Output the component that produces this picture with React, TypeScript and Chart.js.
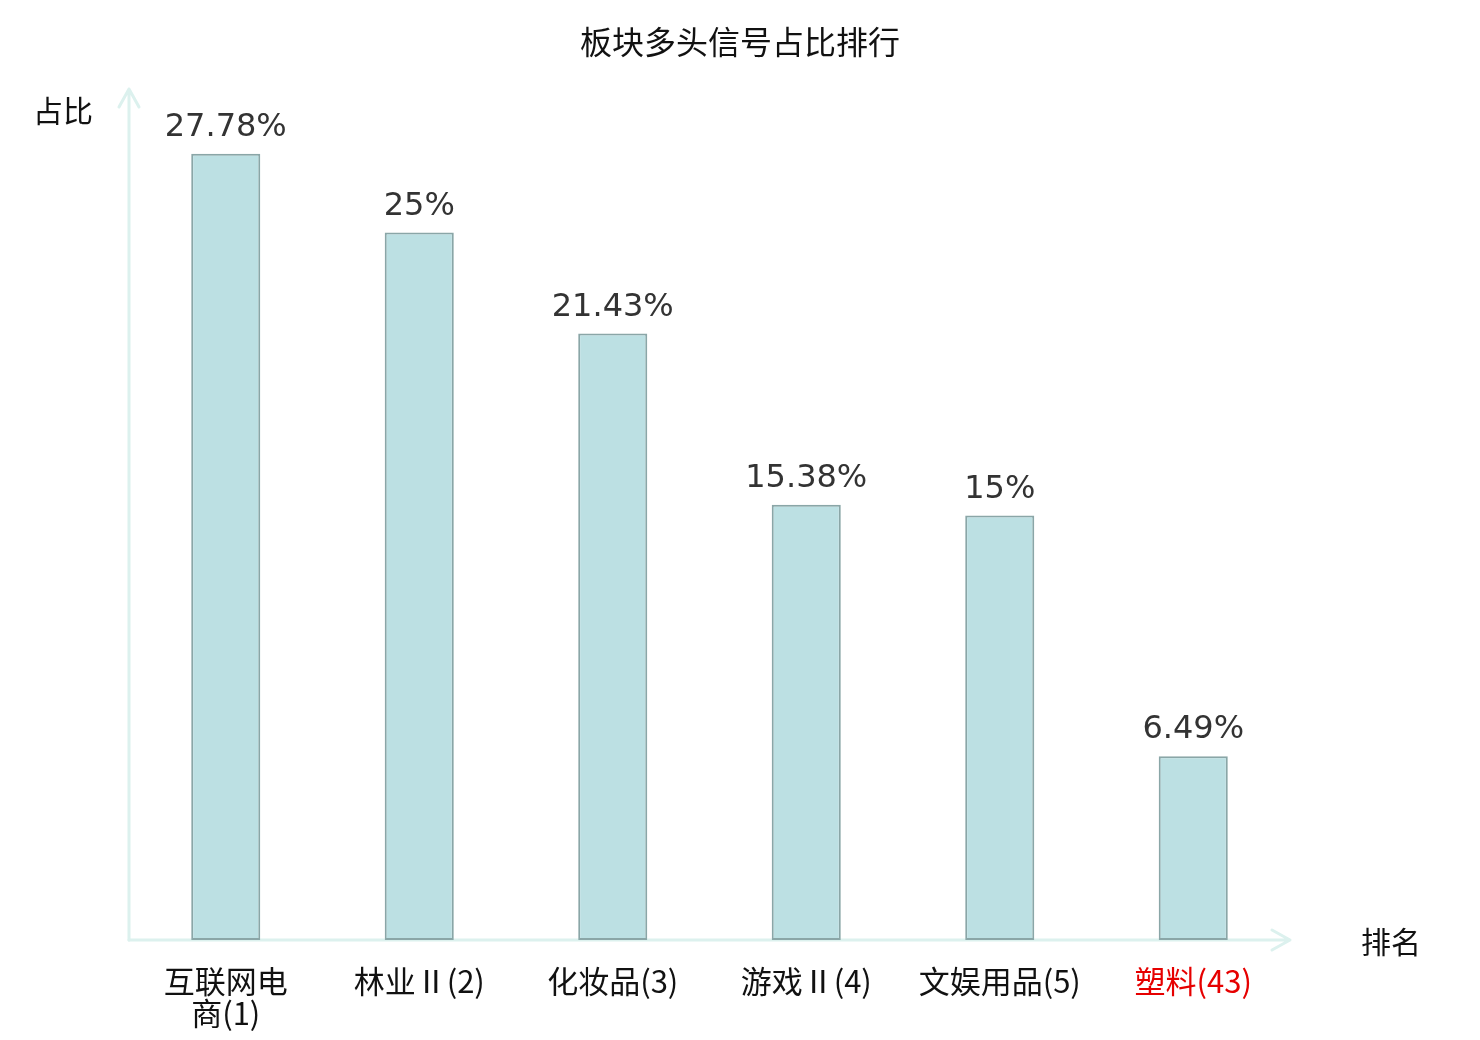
import { useEffect, useRef } from "react"
import { Chart, registerables } from "chart.js"

Chart.register(...registerables)

// categories (rank in brackets), long names wrap onto two lines
const categories = [["互联网电", "商(1)"], "林业Ⅱ(2)", "化妆品(3)", "游戏Ⅱ(4)", "文娱用品(5)", "塑料(43)"]
const shares = [27.78, 25, 21.43, 15.38, 15, 6.49]
const labelColors = ["#111111", "#111111", "#111111", "#111111", "#111111", "#e60000"]
const chartTitle = "板块多头信号占比排行"

const AXIS_COLOR = "#dcf1ee"
const CJK = "'Noto Sans CJK SC', 'DejaVu Sans', sans-serif"

const axisPlugin = {
  id: "axisDecor",
  beforeDatasetsDraw(chart: any) {
    const { ctx, chartArea: a } = chart
    ctx.save()
    ctx.strokeStyle = AXIS_COLOR
    ctx.lineWidth = 3
    ctx.lineCap = "round"
    ctx.lineJoin = "round"
    // y axis with arrow
    ctx.beginPath()
    ctx.moveTo(a.left, a.bottom)
    ctx.lineTo(a.left, a.top - 2)
    ctx.moveTo(a.left - 10, a.top + 16)
    ctx.lineTo(a.left, a.top - 2)
    ctx.lineTo(a.left + 10, a.top + 16)
    ctx.stroke()
    // x axis with arrow
    ctx.beginPath()
    ctx.moveTo(a.left, a.bottom)
    ctx.lineTo(a.right, a.bottom)
    ctx.moveTo(a.right - 18, a.bottom - 10)
    ctx.lineTo(a.right, a.bottom)
    ctx.lineTo(a.right - 18, a.bottom + 10)
    ctx.stroke()
    ctx.restore()
  },
  afterDatasetsDraw(chart: any) {
    const { ctx, chartArea: a, width } = chart
    ctx.save()
    // title centred on the whole canvas
    ctx.fillStyle = "#111111"
    ctx.font = "32px " + CJK
    ctx.textAlign = "center"
    ctx.textBaseline = "middle"
    ctx.fillText(chartTitle, width / 2, 42)
    // value labels above bars
    ctx.fillStyle = "#333333"
    ctx.font = "32px 'DejaVu Sans', sans-serif"
    ctx.textBaseline = "alphabetic"
    chart.getDatasetMeta(0).data.forEach((bar: any, i: number) => {
      ctx.fillText(shares[i] + "%", bar.x, bar.y - 18)
    })
    // axis names
    ctx.fillStyle = "#111111"
    ctx.font = "30px " + CJK
    ctx.textBaseline = "middle"
    ctx.fillText("占比", a.left - 66, a.top + 20)
    ctx.fillText("排名", a.right + 101, a.bottom + 2)
    ctx.restore()
  },
}

export default function App() {
  const canvasRef = useRef<HTMLCanvasElement>(null)
  const chartRef = useRef<Chart | null>(null)

  useEffect(() => {
    document.body.style.margin = "0"
    if (!canvasRef.current) return
    if (chartRef.current) chartRef.current.destroy()

    chartRef.current = new Chart(canvasRef.current, {
      type: "bar",
      data: {
        labels: categories,
        datasets: [
          {
            data: shares,
            backgroundColor: "#bce0e3",
            borderColor: "#8aa6a7",
            borderWidth: 2,
            borderSkipped: false,
            barPercentage: 0.357,
            categoryPercentage: 1,
          },
        ],
      },
      options: {
        responsive: false,
        animation: false,
        layout: { padding: { left: 129, right: 190, top: 91, bottom: 0 } },
        plugins: {
          legend: { display: false },
          tooltip: { enabled: false },
          title: { display: false },
        },
        scales: {
          y: { display: false, min: 0, max: 30 },
          x: {
            grid: { display: false, drawTicks: false },
            border: { display: false },
            ticks: {
              padding: 25,
              color: (c: any) => labelColors[c.index] ?? "#111111",
              font: { family: CJK, size: 31, lineHeight: 1.03 },
              maxRotation: 0,
              autoSkip: false,
            },
            afterFit: (scale: any) => {
              scale.height = 100
            },
          },
        },
      },
      plugins: [axisPlugin],
    })

    return () => {
      if (chartRef.current) {
        chartRef.current.destroy()
        chartRef.current = null
      }
    }
  }, [])

  return (
    <div style={{ width: 1480, height: 1040, background: "#ffffff" }}>
      <canvas ref={canvasRef} width={1480} height={1040} />
    </div>
  )
}
